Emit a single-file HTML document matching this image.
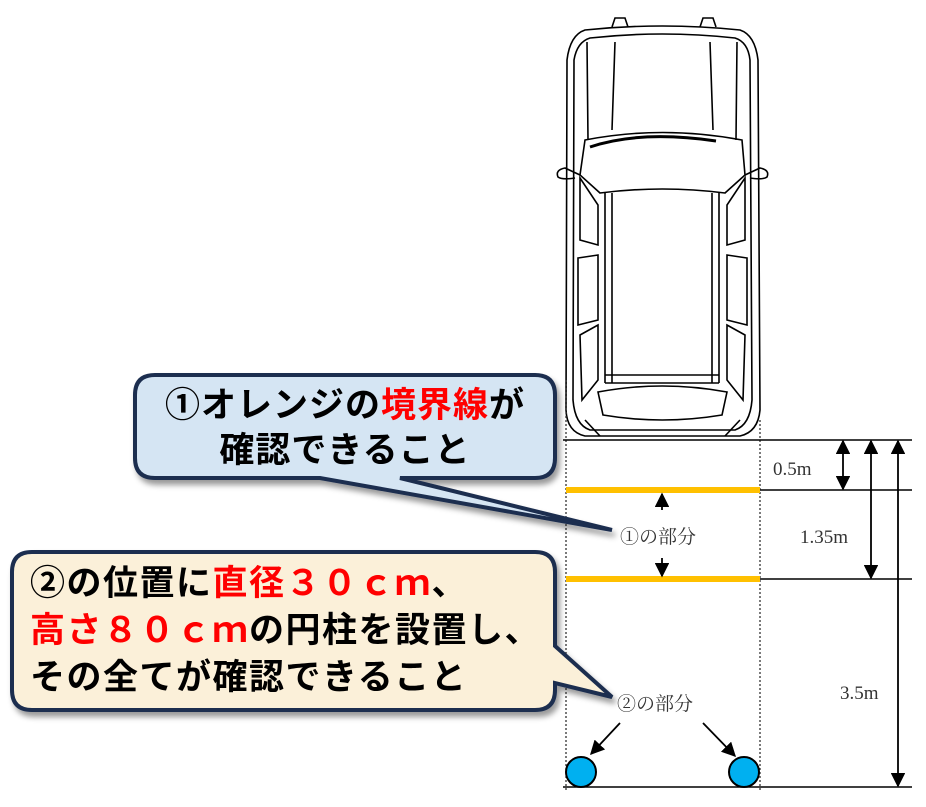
<!DOCTYPE html>
<html><head><meta charset="utf-8"><style>
body{margin:0;background:#fff;width:926px;height:807px;overflow:hidden}
svg{display:block}
.j{font-family:"Liberation Sans","Noto Sans CJK JP",sans-serif;font-weight:bold}
.s{font-family:"Liberation Serif","Noto Serif CJK SC",serif;fill:#333}
</style></head><body>
<svg width="926" height="807" viewBox="0 0 926 807" xmlns="http://www.w3.org/2000/svg">
<defs>
<marker id="a" viewBox="0 0 10 10" refX="9" refY="5" markerWidth="8" markerHeight="8" orient="auto-start-reverse"><path d="M0,0L10,5L0,10z" fill="#000"/></marker>
<filter id="sh" x="-10%" y="-10%" width="130%" height="140%"><feDropShadow dx="3" dy="5" stdDeviation="3" flood-color="#000" flood-opacity="0.4"/></filter>
</defs>
<g fill="none" stroke="#000" stroke-width="1.6">
<path d="M585,30 Q662,22 740,30 Q755,35 758,60 L760,410 Q758,432 740,436 L585,436 Q567,432 566,410 L567,60 Q570,35 585,30z" fill="#fff"/>
<path d="M590,38 Q662,30 735,38 Q748,42 750,60 L752,400 Q750,425 735,430 L590,430 Q575,425 573,400 L574,60 Q577,42 590,38z"/>
<path d="M612,27 L615,18 L625,18 L628,27 M700,27 L703,18 L713,18 L716,27"/>
<path d="M585,140 Q662,125 742,140 L745,175 L725,193 Q662,185 600,193 L580,175z"/>
<path d="M587,42 L588,140 M737,42 L736,140 M615,42 L612,130 M710,42 L713,130"/>
<path d="M590,147 Q640,130 716,141" stroke-width="3"/>
<path d="M605,193 L605,383 M612,193 L612,383 M712,193 L712,383 M719,193 L719,383"/>
<path d="M605,383 L719,383 M605,375 L719,375"/>
<path d="M580,175 L565,168 Q555,170 558,177 Q562,180 575,178 M745,175 L760,168 Q770,170 767,177 Q763,180 750,178"/>
<path d="M580,178 L598,205 L598,245 L580,240z M745,178 L727,205 L727,245 L745,240z"/>
<path d="M578,258 L598,255 L598,320 L578,325z M747,258 L727,255 L727,320 L747,325z"/>
<path d="M580,335 L598,325 L598,380 L582,400z M745,335 L727,325 L727,380 L743,400z"/>
<path d="M598,392 Q662,380 727,392 L722,415 Q662,425 603,415z"/>
<path d="M585,420 L600,436 M740,420 L725,436"/>
</g>
<g stroke="#333" stroke-width="1.3" stroke-dasharray="2,2">
<line x1="566" y1="380" x2="566" y2="790"/><line x1="760" y1="420" x2="760" y2="790"/>
</g>
<g stroke="#000" stroke-width="1.5">
<line x1="563" y1="440" x2="912" y2="440"/>
<line x1="760" y1="490" x2="912" y2="490"/>
<line x1="760" y1="579" x2="912" y2="579"/>
<line x1="563" y1="787" x2="912" y2="787"/>
</g>
<line x1="566" y1="490" x2="760" y2="490" stroke="#ffc000" stroke-width="6"/>
<line x1="566" y1="579" x2="760" y2="579" stroke="#ffc000" stroke-width="6"/>
<g stroke="#000" stroke-width="1.8" marker-start="url(#a)" marker-end="url(#a)">
<line x1="843" y1="441" x2="843" y2="489"/>
<line x1="871" y1="441" x2="871" y2="578"/>
<line x1="898" y1="441" x2="898" y2="786"/>
</g>
<g stroke="#000" stroke-width="1.8" marker-end="url(#a)">
<line x1="662" y1="510" x2="662" y2="494"/>
<line x1="662" y1="558" x2="662" y2="576"/>
<line x1="620" y1="723" x2="591" y2="754"/>
<line x1="703" y1="723" x2="735" y2="756"/>
</g>
<g class="s" font-size="19">
<text x="773" y="475">0.5m</text>
<text x="800" y="543">1.35m</text>
<text x="840" y="699">3.5m</text>
<text x="620" y="543">①の部分</text>
<text x="617" y="710">②の部分</text>
</g>
<circle cx="581" cy="772" r="15" fill="#00b0f0" stroke="#000" stroke-width="2"/>
<circle cx="744" cy="772" r="15" fill="#00b0f0" stroke="#000" stroke-width="2"/>
<path d="M155,375 L535,375 Q555,375 555,395 L555,458 Q555,478 535,478 L400,478 L612,530 L320,478 L155,478 Q135,478 135,458 L135,395 Q135,375 155,375z" fill="#d5e5f3" stroke="#1b2d4f" stroke-width="4" filter="url(#sh)"/>
<text class="j" x="345" y="417" font-size="35" letter-spacing="1" text-anchor="middle" fill="#000">①オレンジの<tspan fill="#ff0000">境界線</tspan>が</text>
<text class="j" x="345" y="462" font-size="35" letter-spacing="1" text-anchor="middle" fill="#000">確認できること</text>
<path d="M32,552 L535,552 Q555,552 555,572 L555,646 L612,697 L555,683 L555,690 Q555,710 535,710 L32,710 Q12,710 12,690 L12,572 Q12,552 32,552z" fill="#fbf0d9" stroke="#1b2d4f" stroke-width="4" filter="url(#sh)"/>
<g class="j" font-size="35" fill="#000" letter-spacing="1.5">
<text x="30" y="595">②の位置に<tspan fill="#ff0000">直径３０ｃｍ</tspan>、</text>
<text x="30" y="642"><tspan fill="#ff0000">高さ８０ｃｍ</tspan>の円柱を設置し、</text>
<text x="30" y="689">その全てが確認できること</text>
</g>
</svg>
</body></html>
